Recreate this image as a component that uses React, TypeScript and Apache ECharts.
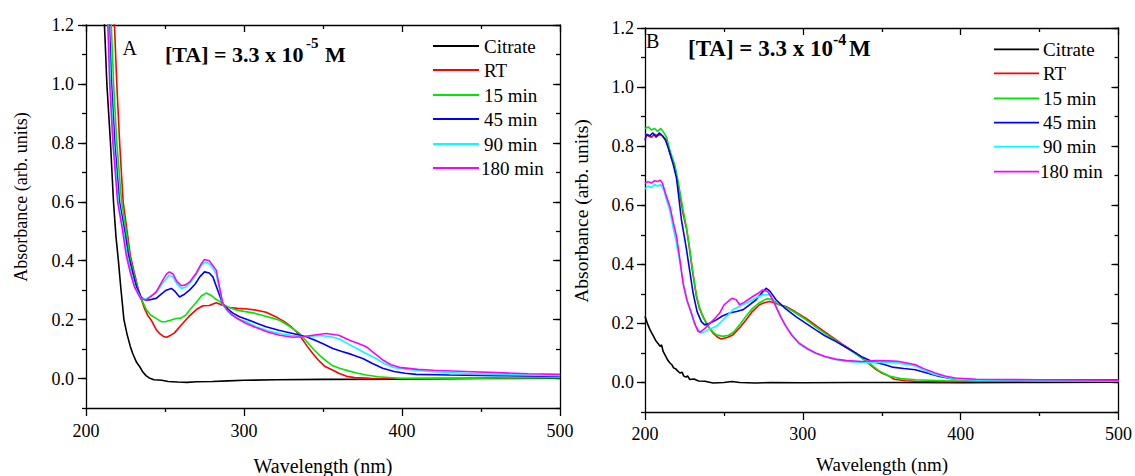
import React, { useEffect, useRef } from "react";
import * as echarts from "echarts";

// ---------- Data ----------
const seriesNames = ["Citrate", "RT", "15 min", "45 min", "90 min", "180 min"];
const seriesColors = ["#000000", "#ff0000", "#00e600", "#0000ff", "#00ffff", "#ff00ff"];
const yTickLabels = [0, 0.2, 0.4, 0.6, 0.8, 1.0, 1.2];
const xTicks = [200, 300, 400, 500];

// Panel A: [TA] = 3.3 x 10^-5 M
const A_citrate = [[210,1.4],[212,1.16],[213.2,1.0],[215.5,0.8],[217.4,0.6],[219,0.48],[220.5,0.4],[222,0.31],[224,0.2],[226,0.15],[228,0.11],[229.5,0.086],[232,0.055],[234,0.04],[236,0.022],[238,0.01],[240,0.002],[243,-0.004],[248,-0.006],[252,-0.01],[258,-0.012],[264,-0.013],[270,-0.011],[280,-0.01],[290,-0.008],[300,-0.006],[320,-0.004],[350,-0.003],[400,-0.002],[450,0.0],[500,0.001]];
const A_rt = [[217,1.3],[218,1.2],[219.5,1.0],[221.3,0.8],[223.5,0.6],[226,0.5],[228,0.42],[230.5,0.36],[232.8,0.31],[235,0.27],[237,0.238],[239,0.215],[241.3,0.198],[244,0.17],[246.5,0.153],[249,0.143],[251,0.14],[253,0.145],[256,0.155],[260,0.18],[265,0.21],[270,0.235],[274,0.247],[278,0.248],[282.4,0.257],[286,0.25],[290,0.241],[296,0.238],[302,0.236],[308,0.232],[314,0.225],[320,0.21],[325,0.195],[330,0.175],[333,0.16],[336,0.14],[340,0.11],[343.5,0.085],[347,0.063],[351,0.042],[356,0.029],[360,0.018],[365,0.008],[370,0.003],[380,0.001],[400,0.0],[450,0.002],[500,0.005]];
const A_15 = [[215,1.3],[216,1.2],[217.5,1.0],[219.5,0.8],[222.5,0.6],[225.5,0.5],[227.5,0.42],[230,0.36],[232.5,0.31],[235,0.272],[238,0.235],[241,0.215],[244.4,0.204],[247.6,0.193],[250,0.193],[253,0.197],[257,0.204],[260,0.205],[263,0.215],[266,0.235],[270,0.26],[273,0.28],[276,0.29],[279,0.283],[282,0.27],[284.5,0.262],[286.6,0.252],[290,0.243],[295,0.233],[300,0.228],[305.6,0.223],[312,0.214],[318,0.205],[322.5,0.198],[328,0.18],[332,0.165],[335.1,0.153],[339,0.13],[343.5,0.102],[348,0.078],[352,0.06],[356.2,0.043],[360.4,0.035],[366,0.026],[372,0.018],[377.3,0.012],[385,0.006],[398.4,0.001],[420,0.0],[460,0.002],[500,0.003]];
const A_45 = [[213.8,1.3],[214.8,1.2],[216.2,1.0],[218.2,0.8],[221.2,0.6],[224.5,0.5],[226.8,0.42],[229.5,0.36],[232,0.31],[235,0.275],[238,0.266],[241,0.268],[244.4,0.272],[248,0.288],[250.8,0.3],[254,0.306],[256.5,0.295],[259.2,0.277],[262,0.285],[265.5,0.3],[269,0.32],[272,0.345],[275,0.362],[278,0.358],[280.3,0.345],[283,0.305],[286.6,0.252],[290,0.235],[293,0.222],[297.2,0.21],[302,0.2],[308,0.188],[314,0.176],[322,0.164],[330.9,0.153],[339.4,0.142],[345,0.13],[350,0.118],[356.2,0.102],[362,0.092],[368,0.082],[375.2,0.068],[381,0.052],[387.8,0.035],[395,0.024],[402,0.018],[408.9,0.014],[430,0.012],[460,0.01],[500,0.008]];
const A_90 = [[213.3,1.3],[214.3,1.2],[215.5,1.0],[217.5,0.8],[220.5,0.6],[223.7,0.5],[226,0.42],[228.5,0.36],[231,0.31],[234.8,0.272],[238,0.27],[241,0.28],[244.4,0.29],[248.6,0.325],[252.8,0.351],[255,0.345],[257.5,0.322],[260.3,0.306],[263,0.31],[266,0.325],[270,0.355],[273,0.385],[276,0.396],[279,0.385],[282.4,0.355],[284.5,0.305],[286.6,0.252],[289,0.232],[292,0.216],[296,0.203],[301.4,0.193],[308,0.175],[315,0.162],[322.5,0.153],[330,0.146],[337,0.142],[343,0.144],[348,0.146],[355,0.142],[360.4,0.134],[366.8,0.115],[372,0.1],[377,0.086],[383.6,0.068],[389,0.05],[394.2,0.038],[405,0.03],[419.5,0.023],[440,0.018],[460,0.014],[480,0.012],[500,0.01]];
const A_180 = [[213,1.3],[213.8,1.2],[215,1.0],[217,0.8],[220,0.6],[223.2,0.5],[225.4,0.42],[228,0.36],[230.7,0.31],[234.5,0.272],[238,0.266],[241,0.278],[244.4,0.294],[248.6,0.334],[251,0.355],[252.8,0.362],[255,0.355],[257.5,0.33],[260.3,0.315],[263,0.318],[266,0.33],[270,0.36],[273,0.39],[275,0.404],[278,0.4],[282.4,0.368],[284.5,0.31],[286.6,0.255],[289,0.235],[292,0.218],[296,0.203],[301.4,0.187],[308,0.172],[315,0.158],[322.5,0.147],[330.9,0.14],[337,0.142],[343.5,0.147],[352,0.153],[360,0.147],[366.8,0.13],[372,0.12],[377.3,0.108],[382,0.088],[387.8,0.063],[393,0.047],[398.4,0.038],[410,0.031],[420,0.028],[440,0.024],[460,0.02],[480,0.016],[500,0.014]];

// Panel B: [TA] = 3.3 x 10^-4 M
const B_citrate = [[200,0.223],[201.5,0.2],[203.2,0.178],[205,0.16],[207,0.14],[208.5,0.13],[209.5,0.122],[210.5,0.127],[211.5,0.105],[213,0.09],[214.5,0.075],[215.8,0.066],[217,0.06],[218,0.05],[219.5,0.046],[220.5,0.04],[222.1,0.032],[223.5,0.035],[224.5,0.022],[226,0.018],[227,0.022],[228.4,0.01],[231,0.012],[234,0.005],[238,0.004],[243.1,-0.002],[250,0.0],[255,0.003],[260,0.0],[270,-0.002],[280,0.0],[300,-0.001],[330,0.0],[360,0.0],[400,-0.001],[450,0.0],[500,0.001]];
const B_rt = [[200,0.84],[202,0.835],[204,0.83],[206,0.84],[208,0.835],[210,0.84],[212,0.83],[213.7,0.82],[215.8,0.775],[218.9,0.73],[221,0.67],[224.1,0.573],[226.3,0.52],[228,0.46],[230,0.38],[232.6,0.291],[234.5,0.25],[236.8,0.223],[240,0.19],[243.1,0.167],[246,0.153],[248.4,0.147],[252,0.152],[255.7,0.161],[260,0.185],[264.1,0.212],[268,0.24],[272.5,0.263],[275.5,0.27],[278.8,0.274],[282,0.27],[285.1,0.263],[289.3,0.257],[295,0.24],[301.9,0.218],[309,0.19],[316.6,0.161],[325,0.13],[333.4,0.1],[340,0.072],[346,0.045],[350,0.032],[354.5,0.022],[358,0.011],[365,0.006],[371.3,0.004],[390,0.003],[420,0.004],[460,0.005],[500,0.005]];
const B_15 = [[200,0.86],[202,0.865],[204,0.855],[206,0.86],[208,0.85],[210,0.86],[212,0.845],[213.7,0.83],[215.8,0.785],[218.9,0.735],[221,0.68],[224.1,0.585],[226.3,0.525],[228,0.465],[230,0.385],[232.6,0.295],[234.5,0.255],[236.8,0.22],[240,0.19],[243.1,0.17],[245.2,0.161],[249.4,0.156],[253,0.16],[256,0.17],[260,0.195],[264.1,0.225],[268,0.25],[272.5,0.27],[276.7,0.282],[279,0.283],[282,0.275],[285.1,0.263],[289.3,0.255],[295,0.237],[301.9,0.213],[309,0.185],[316.6,0.157],[325,0.127],[333.4,0.097],[341.9,0.066],[348,0.04],[354.5,0.022],[362,0.013],[371.3,0.009],[390,0.006],[430,0.005],[500,0.005]];
const B_45 = [[200,0.82],[201,0.84],[203,0.835],[205,0.845],[207,0.83],[209,0.845],[211,0.835],[213,0.82],[215,0.79],[218,0.735],[220,0.69],[223.1,0.55],[226,0.46],[228,0.39],[230.5,0.302],[233,0.24],[235.7,0.206],[237.8,0.195],[241,0.2],[245.2,0.212],[249,0.225],[253.6,0.235],[258,0.24],[262,0.246],[266,0.262],[270.4,0.28],[273.5,0.3],[276.7,0.319],[279,0.31],[283,0.28],[289,0.25],[295.6,0.223],[302,0.2],[308.2,0.178],[314,0.158],[320.8,0.139],[327,0.12],[333.4,0.1],[338,0.085],[343.9,0.071],[350,0.063],[356.6,0.052],[364,0.047],[371.3,0.043],[378,0.033],[386,0.021],[395,0.012],[410,0.009],[450,0.009],[500,0.009]];
const B_90 = [[200,0.655],[202,0.665],[204,0.66],[206,0.67],[208,0.665],[210,0.67],[212,0.65],[213.5,0.62],[215.8,0.58],[218,0.52],[220,0.47],[222,0.41],[224.5,0.33],[227,0.27],[229.5,0.23],[232,0.19],[235.7,0.167],[240,0.178],[245.2,0.19],[250,0.215],[255.7,0.246],[260,0.258],[266.2,0.274],[270,0.285],[274.6,0.297],[278.8,0.297],[281,0.28],[283,0.255],[286,0.222],[289.3,0.19],[293,0.162],[297.7,0.13],[303,0.112],[308.2,0.098],[314,0.087],[320.8,0.077],[328,0.071],[337.6,0.068],[346,0.068],[356.6,0.068],[364,0.063],[371.3,0.056],[378,0.04],[383,0.028],[388.1,0.021],[395,0.012],[410,0.008],[450,0.007],[500,0.006]];
const B_180 = [[200,0.675],[202,0.68],[204,0.675],[206,0.683],[208,0.68],[209.5,0.685],[211,0.675],[213,0.64],[215.8,0.595],[218,0.54],[220,0.494],[222,0.42],[224.1,0.336],[226.5,0.28],[229.4,0.235],[231.5,0.2],[233.6,0.173],[235,0.17],[238,0.183],[241,0.2],[244,0.215],[247.3,0.235],[250,0.262],[252.5,0.274],[255,0.285],[257.8,0.28],[259.9,0.263],[263,0.272],[268.3,0.291],[272,0.303],[274.6,0.313],[277.7,0.308],[280,0.29],[283,0.257],[286,0.222],[289.3,0.19],[293,0.16],[297.7,0.133],[303,0.114],[308.2,0.1],[314,0.088],[320.8,0.079],[328,0.074],[337.6,0.071],[346,0.074],[354.5,0.073],[360,0.072],[366,0.066],[371.3,0.06],[377,0.046],[383.9,0.032],[390,0.022],[396.5,0.015],[410,0.011],[450,0.009],[500,0.008]];

const panelA = [A_citrate, A_rt, A_15, A_45, A_90, A_180];
const panelB = [B_citrate, B_rt, B_15, B_45, B_90, B_180];

// ---------- Styling ----------
const FONT = "'Liberation Serif', 'Times New Roman', serif";
const AX = { color: "#000", width: 1.3 };

function buildAxes(gi: number, labelMarginX: number, labelMarginY: number) {
  const xCommon = { type: "value", gridIndex: gi, min: 200, max: 500, interval: 100, splitLine: { show: false } };
  const yCommon = { type: "value", gridIndex: gi, min: -0.1, max: 1.2, interval: 0.1, splitLine: { show: false } };
  const xAxes = [
    {
      ...xCommon, position: "bottom",
      axisLine: { show: true, onZero: false, lineStyle: AX },
      axisTick: { show: true, inside: false, length: 8, lineStyle: AX },
      minorTick: { show: true, splitNumber: 2, length: 4, lineStyle: AX },
      axisLabel: { show: true, margin: labelMarginX, fontSize: 18, fontFamily: FONT, color: "#000",
        customValues: xTicks, formatter: (v: number) => String(v) },
    },
    {
      ...xCommon, position: "top",
      axisLine: { show: true, onZero: false, lineStyle: AX },
      axisTick: { show: true, inside: true, length: 7, lineStyle: AX },
      minorTick: { show: true, splitNumber: 2, length: 4, lineStyle: AX },
      axisLabel: { show: false },
    },
  ];
  const yAxes = [
    {
      ...yCommon, position: "left",
      axisLine: { show: true, onZero: false, lineStyle: AX },
      axisTick: { show: true, inside: false, length: 8, lineStyle: AX, customValues: yTickLabels },
      axisLabel: { show: true, margin: labelMarginY, fontSize: 18, fontFamily: FONT, color: "#000",
        customValues: yTickLabels, formatter: (v: number) => v.toFixed(1) },
    },
    {
      ...yCommon, position: "left",
      axisLine: { show: false },
      axisTick: { show: true, inside: false, length: 4, lineStyle: AX },
      axisLabel: { show: false },
    },
    {
      ...yCommon, position: "right",
      axisLine: { show: true, onZero: false, lineStyle: AX },
      axisTick: { show: true, inside: true, length: 7, lineStyle: AX, customValues: yTickLabels },
      axisLabel: { show: false },
    },
    {
      ...yCommon, position: "right",
      axisLine: { show: false },
      axisTick: { show: true, inside: true, length: 4, lineStyle: AX },
      axisLabel: { show: false },
    },
  ];
  return { xAxes, yAxes };
}

function buildLegend(lineX1: number, lineX2: number, textX: number, rows: number[]) {
  const els: any[] = [];
  seriesNames.forEach((name, i) => {
    els.push({
      type: "line", silent: true,
      shape: { x1: lineX1, y1: rows[i], x2: lineX2, y2: rows[i] },
      style: { stroke: seriesColors[i], lineWidth: 1.8 },
    });
    els.push({
      type: "text", silent: true, x: textX - (name === "180 min" ? 3 : 0), y: rows[i],
      style: { text: name, fontFamily: FONT, fontSize: 19, fill: "#000", align: "left", verticalAlign: "middle" },
    });
  });
  return els;
}

function txt(text: string, x: number, y: number, size: number, bold = false, extra: any = {}) {
  return {
    type: "text", silent: true, x, y, ...extra,
    style: { text, fontFamily: FONT, fontSize: size, fontWeight: bold ? "bold" : "normal", fill: "#000",
      align: extra.align || "left", verticalAlign: "middle" },
  };
}

export default function App() {
  const ref = useRef<HTMLDivElement>(null);
  useEffect(() => {
    if (!ref.current) return;
    const chart = echarts.init(ref.current, undefined, { renderer: "svg" });
    const a0 = buildAxes(0, 14, 12);
    const a1 = buildAxes(1, 13, 11);
    const xAxis = [...a0.xAxes, ...a1.xAxes];
    const yAxis = [...a0.yAxes, ...a1.yAxes];
    const series: any[] = [];
    [panelA, panelB].forEach((panel, p) => {
      panel.forEach((data, i) => {
        series.push({
          type: "line", name: seriesNames[i], data, xAxisIndex: p * 2, yAxisIndex: p * 4,
          showSymbol: false, symbol: "none", clip: true, smooth: false,
          lineStyle: { color: seriesColors[i], width: 1.6 }, itemStyle: { color: seriesColors[i] },
          z: 2 + i,
        });
      });
    });
    const graphic: any[] = [
      ...buildLegend(433, 479, 484, [46, 70, 95, 119, 144, 168]),
      ...buildLegend(994, 1039, 1043, [49.3, 73.3, 98.3, 122.7, 146.7, 171.7]),
      txt("A", 122.5, 48, 20),
      txt("[TA] = 3.3 x 10", 165, 54, 22, true),
      txt("-5", 306, 43, 15, true),
      txt("M", 325, 54, 22, true),
      txt("B", 646, 40.5, 20),
      txt("[TA] = 3.3 x 10", 688, 48, 23, true),
      txt("-4", 833, 39, 16, true),
      txt("M", 849, 48, 23, true),
      txt("Wavelength (nm)", 323, 466, 20, false, { align: "center" }),
      txt("Wavelength (nm)", 882, 464, 19, false, { align: "center" }),
      txt("Absorbance (arb. units)", 21, 197, 18, false, { align: "center", rotation: Math.PI / 2 }),
      txt("Absorbance (arb. units)", 581, 211, 19.5, false, { align: "center", rotation: Math.PI / 2 }),
    ];
    chart.setOption({
      animation: false,
      backgroundColor: "#fff",
      grid: [
        { left: 86, top: 25, width: 474, height: 383, containLabel: false },
        { left: 645, top: 28, width: 476, height: 384, containLabel: false },
      ],
      xAxis, yAxis, series, graphic,
    });
    return () => chart.dispose();
  }, []);
  return <div ref={ref} style={{ position: "absolute", left: 0, top: 0, width: 1135, height: 476 }} />;
}
